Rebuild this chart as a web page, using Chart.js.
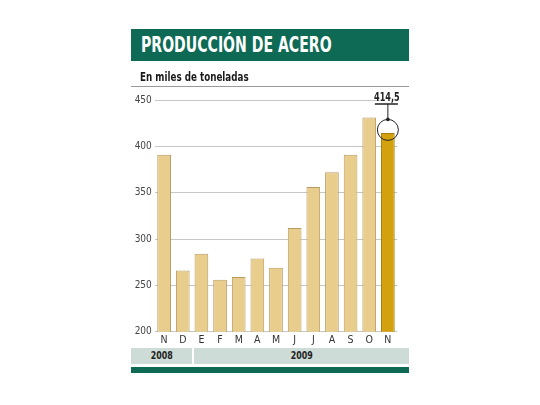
<!DOCTYPE html>
<html>
<head>
<meta charset="utf-8">
<script src="https://cdn.jsdelivr.net/npm/chart.js@4.4.1/dist/chart.umd.min.js"></script>
<style>
  html, body { margin: 0; padding: 0; background: #fff; }
  body { width: 540px; height: 405px; position: relative; overflow: hidden;
         font-family: "DejaVu Sans Condensed", "Liberation Sans", sans-serif; }
  #wrap { position: absolute; left: 0; top: 0; width: 540px; height: 405px; }
  .box { position: absolute; box-sizing: border-box; }
  .squeeze { display: inline-block; transform-origin: left center; white-space: nowrap; }
  #title { left: 131px; top: 29px; width: 278px; height: 32px; background: #0e6a55;
           color: #fff; font-weight: bold; font-size: 21px; line-height: 32px; padding-left: 10px; }
  #title .squeeze { transform: scaleX(0.745); }
  #subtitle { left: 140px; top: 69px; font-weight: bold; font-size: 13px; color: #1a1a1a; line-height: 16px; }
  #subtitle .squeeze { transform: scaleX(0.75); }
  #rule { left: 131px; top: 86px; width: 278px; height: 1px; background: #9a9a9a; }
  .year { top: 348px; height: 16px; background: #cddcd6; color: #222; font-weight: bold;
          font-size: 11px; line-height: 16px; text-align: center; }
  .year .squeeze { transform: scaleX(0.8); transform-origin: center center; }
  #foot { left: 131px; top: 367px; width: 278px; height: 6px; background: #0e6a55; }
</style>
</head>
<body>
<div id="wrap"><canvas id="chart" width="540" height="405"></canvas></div>
<div class="box" id="title"><span class="squeeze">PRODUCCIÓN DE ACERO</span></div>
<div class="box" id="subtitle"><span class="squeeze">En miles de toneladas</span></div>
<div class="box" id="rule"></div>
<div class="box year" style="left:131px;width:61px;"><span class="squeeze">2008</span></div>
<div class="box year" style="left:194px;width:215px;"><span class="squeeze">2009</span></div>
<div class="box" id="foot"></div>
<script>
// meses nov 2008 - nov 2009
var months = ['N', 'D', 'E', 'F', 'M', 'A', 'M', 'J', 'J', 'A', 'S', 'O', 'N'];
var produccion = [391, 266, 284, 256, 259, 279, 269, 312, 356, 372, 391, 431, 414.5];
var yTicks = [200, 250, 300, 350, 400, 450];
var highlightLabel = '414,5';

var FONT = '"DejaVu Sans Condensed", "Liberation Sans", sans-serif';

var barColors = produccion.map(function (v, i) {
    return i === produccion.length - 1 ? '#d4a10e' : '#e8cd8c';
});
var barBorders = produccion.map(function (v, i) {
    return i === produccion.length - 1 ? '#a57d08' : '#b89c62';
});

// tapa la linea de 450 bajo la etiqueta y dibuja el circulo con la flecha
var annotate = {
    id: 'annotate',
    beforeDatasetsDraw: function (chart) {
        var ctx = chart.ctx, x = chart.scales.x, y = chart.scales.y;
        var last = produccion.length - 1;
        var left = x.getPixelForValue(last - 0.5) + 1;
        ctx.save();
        ctx.fillStyle = '#fff';
        ctx.fillRect(left, y.getPixelForValue(450) - 2, chart.chartArea.right - left + 2, 4);
        ctx.restore();
    },
    afterDatasetsDraw: function (chart) {
        var ctx = chart.ctx, x = chart.scales.x, y = chart.scales.y;
        var last = produccion.length - 1;
        var cx = x.getPixelForValue(last);
        var top = y.getPixelForValue(produccion[last]);
        var cy = top - 3, r = 10.5;
        ctx.save();
        ctx.strokeStyle = '#222';
        ctx.lineWidth = 1;
        ctx.beginPath();
        ctx.arc(cx, cy, r, 0, Math.PI * 2);
        ctx.stroke();
        // linea bajo el valor
        ctx.lineWidth = 1.5;
        ctx.beginPath();
        ctx.moveTo(cx - 13, 104);
        ctx.lineTo(cx + 10, 104);
        ctx.stroke();
        ctx.lineWidth = 1;
        ctx.beginPath();
        ctx.moveTo(cx, 104);
        ctx.lineTo(cx, cy - r);
        ctx.stroke();
        ctx.fillStyle = '#222';
        ctx.beginPath();
        ctx.arc(cx, cy - r, 1.8, 0, Math.PI * 2);
        ctx.fill();
        // etiqueta estrecha
        ctx.translate(cx - 1, 100.5);
        ctx.scale(0.75, 1);
        ctx.font = 'bold 12px ' + FONT;
        ctx.textAlign = 'center';
        ctx.textBaseline = 'alphabetic';
        ctx.fillText(highlightLabel, 0, 0);
        ctx.restore();
    }
};

new Chart(document.getElementById('chart'), {
    type: 'bar',
    data: {
        labels: months,
        datasets: [{
            data: produccion,
            backgroundColor: barColors,
            borderColor: barBorders,
            borderWidth: 1,
            categoryPercentage: 1,
            barPercentage: 0.735
        }]
    },
    options: {
        responsive: false,
        animation: false,
        devicePixelRatio: 1,
        layout: { padding: { left: 124.8, right: 142.8, top: 100, bottom: 57.3 } },
        plugins: { legend: { display: false }, tooltip: { enabled: false } },
        scales: {
            x: {
                grid: { display: false, drawTicks: false },
                border: { display: false },
                ticks: { color: '#333', font: { family: FONT, size: 10.5 }, padding: 2 },
                afterFit: function (s) { s.height = 16; }
            },
            y: {
                min: 200,
                max: 450,
                afterBuildTicks: function (s) { s.ticks = yTicks.map(function (v) { return { value: v }; }); },
                grid: { color: '#c6c6c6', lineWidth: 1, drawTicks: false },
                border: { display: false },
                ticks: { color: '#444', font: { family: FONT, size: 10 }, padding: 3 },
                afterFit: function (s) { s.width = 30; }
            }
        }
    },
    plugins: [annotate]
});
</script>
</body>
</html>
